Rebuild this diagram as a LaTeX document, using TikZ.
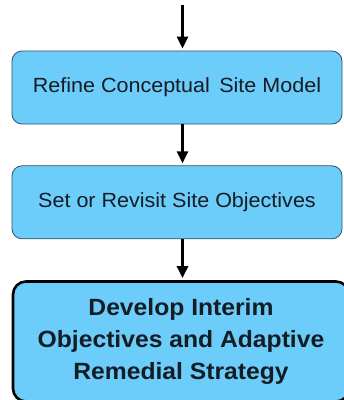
\documentclass[tikz,border=0pt]{standalone}
\usepackage{fontspec}
\setmainfont{Liberation Sans}[FakeStretch=1.05]
\usepackage{tikz}
\usetikzlibrary{positioning}
\usetikzlibrary{arrows.meta}
\definecolor{boxfill}{RGB}{108,204,250}
\definecolor{boxline}{RGB}{50,80,100}
\definecolor{textcol}{RGB}{20,28,36}

\begin{document}
\begin{tikzpicture}[node distance=41pt,
    stage/.style={draw=boxline, line width=0.8pt, fill=boxfill, rounded corners=10pt,
      minimum width=330pt, minimum height=73pt, text=textcol, font=\fontsize{20.5}{24}\selectfont},
    keystage/.style={stage, draw=black, line width=2.6pt, rounded corners=13pt,
      minimum width=336pt, minimum height=120pt, align=center,
      font=\fontsize{23.5}{32}\selectfont\bfseries},
    flow/.style={-{Triangle[width=11pt,length=12pt]}, line width=2.6pt, shorten >=2pt}]

      \useasboundingbox (0,0) rectangle (344pt,-400pt);

      \node[stage]            (refine_csm) at (177pt,-87.5pt) {Refine Conceptual\, Site Model};
      \coordinate[above=46pt of refine_csm.north] (entry);
      \node[stage]            (site_obj)   [below=of refine_csm] {Set or Revisit Site Objectives};
      \node[keystage]         (interim)    [below=of site_obj, xshift=4pt]
        {Develop Interim\\Objectives and Adaptive\\Remedial Strategy};

      \path[flow]
      ([xshift=5.5pt]entry) edge ([xshift=5.5pt]refine_csm.north)
      ([xshift=5.5pt]refine_csm.south) edge ([xshift=5.5pt]site_obj.north)
      ([xshift=5.5pt]site_obj.south) edge ([xshift=1.5pt]interim.north)
      ;
    \end{tikzpicture}
\end{document}
